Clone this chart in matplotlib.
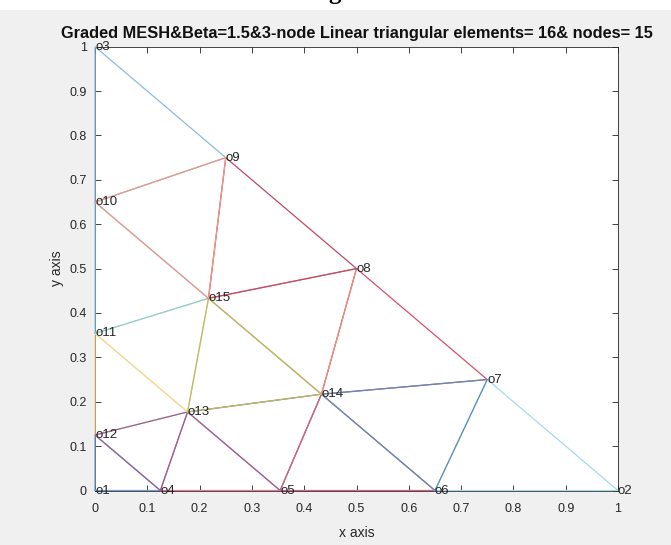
import numpy as np
import matplotlib.pyplot as plt
from matplotlib.patches import Rectangle

# Coordenadas de los nodos (1..15)
nodos_x = [0, 1, 0, 0.125, 0.354, 0.650, 0.75, 0.5, 0.25, 0, 0, 0, 0.177, 0.433, 0.217]
nodos_y = [0, 0, 1, 0, 0, 0, 0.25, 0.5, 0.75, 0.650, 0.354, 0.125, 0.177, 0.217, 0.433]

# Conectividad de los elementos (orden de dibujo)
elementos = [
    [10, 9, 3], [1, 4, 12], [12, 13, 11], [4, 5, 13], [4, 13, 12], [5, 14, 13],
    [5, 6, 14], [6, 2, 7], [14, 7, 8], [6, 7, 14], [13, 15, 11], [11, 15, 10],
    [14, 8, 15], [13, 14, 15], [15, 8, 9], [15, 9, 10],
]
colores = [
    '#8dbbdc', '#6f9fcc', '#f2d98a', '#e07a8c', '#94609a', '#97659c',
    '#d0607f', '#a6dbe8', '#d8506c', '#5f8dba', '#f2dc9a', '#8ccedd',
    '#e8907c', '#b4bf64', '#bf4a66', '#ee9888',
]

titulo = 'Graded MESH&Beta=1.5&3-node Linear triangular elements= 16& nodes= 15'

plt.rcParams['font.family'] = ['Liberation Sans', 'DejaVu Sans']

fig = plt.figure(figsize=(6.71, 5.45), dpi=100, facecolor='#f0f0f0')
ax = fig.add_axes([95 / 671, 1 - 490.5 / 545, 523 / 671, 443.8 / 545])
ax.set_facecolor('white')

# franja blanca superior con el resto de una letra cortada
fig.patches.append(Rectangle((0, 1 - 10 / 545), 1, 10 / 545, transform=fig.transFigure,
                             facecolor='white', edgecolor='none', zorder=0))
fig.text(335 / 671, 1 + 1 / 545, 'g', fontsize=18, fontweight='bold',
         family='Liberation Serif', ha='center', va='baseline')

for elem, c in zip(elementos, colores):
    idx = [n - 1 for n in elem] + [elem[0] - 1]
    ax.plot([nodos_x[i] for i in idx], [nodos_y[i] for i in idx], color=c, lw=0.9,
            zorder=3, clip_on=False)

for i in range(len(nodos_x)):
    ax.text(nodos_x[i], nodos_y[i], 'o' + str(i + 1), fontsize=9.5, color='#262626',
            ha='left', va='center', zorder=4)

ax.set_xlim(0, 1)
ax.set_ylim(0, 1)
ax.set_xticks(np.arange(0, 1.01, 0.1))
ax.set_yticks(np.arange(0, 1.01, 0.1))
ax.set_xticklabels(['0', '0.1', '0.2', '0.3', '0.4', '0.5', '0.6', '0.7', '0.8', '0.9', '1'])
ax.set_yticklabels(['0', '0.1', '0.2', '0.3', '0.4', '0.5', '0.6', '0.7', '0.8', '0.9', '1'])
ax.tick_params(direction='in', length=4, width=0.6, colors='#262626', labelsize=9,
               top=True, right=True)
ax.tick_params(axis='x', pad=9)
ax.tick_params(axis='y', pad=6)
for s in ax.spines.values():
    s.set_color('#262626')
    s.set_linewidth(0.6)

ax.set_title(titulo, fontsize=11.8, fontweight='bold', color='#111111', pad=6)
ax.set_xlabel('x axis', fontsize=10, color='#262626', labelpad=8)
ax.set_ylabel('y axis', fontsize=10, color='#262626', labelpad=4)

fig.savefig('out.png', dpi=100, facecolor=fig.get_facecolor())
